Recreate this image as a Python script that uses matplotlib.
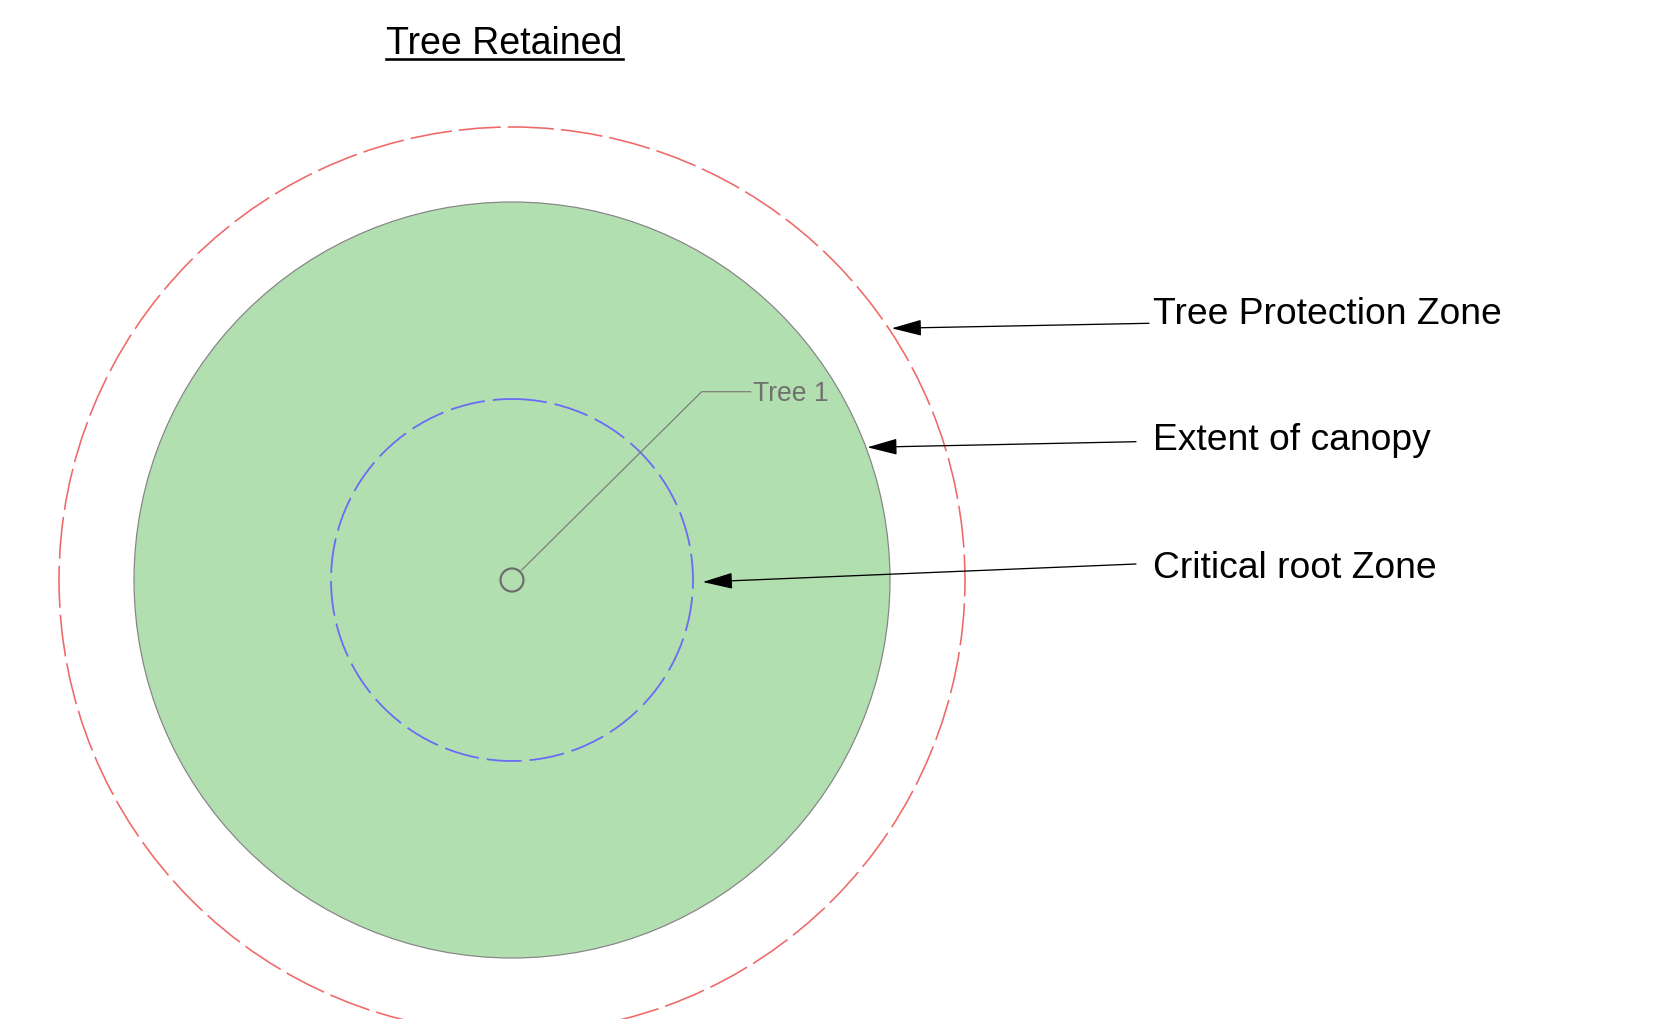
import matplotlib
matplotlib.use("Agg")
import matplotlib.pyplot as plt
from matplotlib.patches import Circle
from matplotlib.lines import Line2D

plt.rcParams['font.family'] = ['Liberation Sans', 'DejaVu Sans']

# ---- data (pixel-space drawing units) ----
tree_center = (512, 580)
zone_names = ["Tree Protection Zone", "Extent of canopy", "Critical root Zone"]
zone_radii = [453, 378, 181]
trunk_radius = 11.5
label_x = 1153
label_baselines = [323.5, 450, 577.5]
arrow_starts = [(1149, 323.3), (1136, 441.7), (1136, 564)]
arrow_tips = [(891.7, 328.3), (867.3, 447.3), (702.7, 582)]
tree_label = "Tree 1"
leader_pts_x = [521.7, 701.7, 750.7]
leader_pts_y = [570, 391.7, 391.7]
title = "Tree Retained"

W, H = 1654, 1019
fig = plt.figure(figsize=(W / 100, H / 100), dpi=100)
ax = fig.add_axes([0, 0, 1, 1])
ax.set_xlim(0, W)
ax.set_ylim(H, 0)
ax.set_aspect('equal')
ax.axis('off')

PX = 72 / 100  # points per pixel

# TPZ (red dashed)
lw_r = 1.6 * PX
ax.add_patch(Circle(tree_center, zone_radii[0], fill=False, edgecolor='#ee6868',
                    linewidth=lw_r, linestyle=(0, (42 * PX / lw_r, 7 * PX / lw_r)), zorder=2))
# canopy (green filled)
ax.add_patch(Circle(tree_center, zone_radii[1], facecolor='#b1dfb0', edgecolor='#858585',
                    linewidth=1.2 * PX, zorder=1))
# CRZ (blue dashed)
lw_b = 1.8 * PX
ax.add_patch(Circle(tree_center, zone_radii[2], fill=False, edgecolor='#6b6bf5',
                    linewidth=lw_b, linestyle=(0, (35 * PX / lw_b, 8 * PX / lw_b)), zorder=3))
# trunk
ax.add_patch(Circle(tree_center, trunk_radius, fill=False, edgecolor='#6e6e6e',
                    linewidth=2.2 * PX, zorder=4))

# leader + tree label
ax.add_line(Line2D(leader_pts_x, leader_pts_y, color='#7a7a7a', linewidth=1.2 * PX, zorder=4))
ax.text(752.7, 400.7, tree_label, fontsize=26.5 * PX, color='#707070', ha='left', va='baseline', zorder=5)

# zone labels with arrows
for name, by, s, t in zip(zone_names, label_baselines, arrow_starts, arrow_tips):
    ax.text(label_x, by, name, fontsize=37.2 * PX, color='black', ha='left', va='baseline')
    ax.annotate('', xy=t, xytext=s,
                arrowprops=dict(arrowstyle='-|>,head_length=%f,head_width=%f' % (26 * PX, 7 * PX),
                                mutation_scale=1, color='black', lw=1.3 * PX,
                                shrinkA=0, shrinkB=0), zorder=6)

# title with underline
tt = ax.text(504.5, 54, title, fontsize=37.5 * PX, color='black', ha='center', va='baseline')
fig.canvas.draw()
bb = tt.get_window_extent(renderer=fig.canvas.get_renderer())
x0, x1 = bb.x0, bb.x1
ax.add_line(Line2D([x0, x1], [58.5, 58.5], color='black', linewidth=2.6 * PX))

fig.savefig("out.png", dpi=100)
